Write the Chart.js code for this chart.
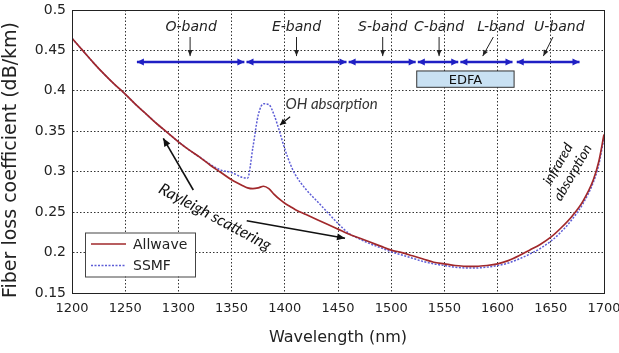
<!DOCTYPE html>
<html><head><meta charset="utf-8">
<script src="https://cdn.jsdelivr.net/npm/chart.js@4/dist/chart.umd.min.js"></script>
<style>html,body{margin:0;padding:0;background:#fff}</style>
</head><body>
<canvas id="c" width="619" height="353"></canvas>
<script>
const wavelengths = [1200,1210,1220,1230,1240,1250,1260,1270,1280,1290,1300,1310,1320,1330,1340,1350,1360,1365,1370,1375,1380,1385,1390,1395,1400,1405,1410,1420,1430,1440,1450,1460,1470,1480,1490,1500,1510,1520,1530,1540,1550,1560,1570,1580,1590,1600,1610,1620,1630,1640,1650,1660,1670,1680,1690,1695,1700];
const allwave = [0.465,0.450,0.435,0.421,0.408,0.396,0.383,0.371,0.359,0.348,0.337,0.327,0.318,0.308,0.299,0.290,0.283,0.280,0.279,0.280,0.282,0.279,0.272,0.266,0.261,0.257,0.253,0.247,0.241,0.235,0.229,0.223,0.218,0.213,0.208,0.203,0.200,0.196,0.192,0.188,0.186,0.184,0.183,0.183,0.184,0.186,0.190,0.196,0.203,0.210,0.219,0.231,0.245,0.263,0.290,0.312,0.346];
const ssmf = [0.465,0.450,0.435,0.421,0.408,0.396,0.383,0.371,0.359,0.348,0.337,0.327,0.318,0.309,0.302,0.299,0.293,0.292,0.330,0.370,0.384,0.383,0.370,0.350,0.328,0.310,0.296,0.278,0.264,0.250,0.236,0.224,0.217,0.211,0.206,0.201,0.197,0.193,0.189,0.186,0.184,0.182,0.181,0.181,0.182,0.184,0.187,0.192,0.198,0.205,0.214,0.226,0.241,0.260,0.287,0.308,0.342];
const xTicks = [1200,1250,1300,1350,1400,1450,1500,1550,1600,1650,1700];
const yTicks = [0.15,0.2,0.25,0.3,0.35,0.4,0.45,0.5];
const yTickLabels = ['0.15','0.2','0.25','0.3','0.35','0.4','0.45','0.5'];

// telecom bands (nm) as read from the arrows
const bandNames = ['O-band','E-band','S-band','C-band','L-band','U-band'];
const bandStart = [1261,1364,1460,1525,1565,1618];
const bandEnd   = [1362,1458,1523,1563,1614,1677];
const bandLabelX = [1312,1411,1492,1545,1603,1658];
const bandPointerTop = [1311,1411,1492,1545,1596,1652];
const bandPointerBottom = [1311,1411,1492,1545,1586,1643];
const bandArrowLevel = 0.4357;
const bandLabelLevel = 0.479;
const bandPointerFrom = 0.4666;
const bandPointerTo = 0.443;
const edfaRange = [1524,1615.5];
const edfaLevels = [0.4246,0.4044];

const C_RED = '#a1282b';
const C_BLUE = '#5d5dd6';
const C_BAND = '#1f1fc4';

function arrowHead(ctx, x1, y1, x2, y2, len, half){
  const ang = Math.atan2(y2-y1, x2-x1);
  ctx.beginPath();
  ctx.moveTo(x2, y2);
  ctx.lineTo(x2 - len*Math.cos(ang) + half*Math.sin(ang), y2 - len*Math.sin(ang) - half*Math.cos(ang));
  ctx.lineTo(x2 - len*Math.cos(ang) - half*Math.sin(ang), y2 - len*Math.sin(ang) + half*Math.cos(ang));
  ctx.closePath();
  ctx.fill();
}
function arrow(ctx, x1, y1, x2, y2, color, w, len, half, both){
  ctx.strokeStyle = color; ctx.fillStyle = color; ctx.lineWidth = w;
  ctx.beginPath(); ctx.moveTo(x1, y1); ctx.lineTo(x2, y2); ctx.stroke();
  arrowHead(ctx, x1, y1, x2, y2, len, half);
  if (both) arrowHead(ctx, x2, y2, x1, y1, len, half);
}

const annot = {
  id: 'annot',
  afterDatasetsDraw(chart){
    const {ctx, scales:{x, y}, chartArea:a} = chart;
    const X = v => x.getPixelForValue(v), Y = v => y.getPixelForValue(v);
    ctx.save();
    ctx.setLineDash([]);
    // frame
    ctx.strokeStyle = '#222'; ctx.lineWidth = 1;
    ctx.strokeRect(Math.round(a.left)+0.5, Math.round(a.top)+0.5, Math.round(a.right-a.left), Math.round(a.bottom-a.top));

    // bands
    ctx.font = 'italic 14px "DejaVu Sans"';
    ctx.textAlign = 'center'; ctx.textBaseline = 'middle';
    for (let i = 0; i < bandNames.length; i++){
      arrow(ctx, X(bandStart[i]), Y(bandArrowLevel), X(bandEnd[i]), Y(bandArrowLevel), C_BAND, 2.4, 7, 3.5, true);
      ctx.fillStyle = '#222';
      ctx.fillText(bandNames[i], X(bandLabelX[i]), Y(bandLabelLevel));
      arrow(ctx, X(bandPointerTop[i]), Y(bandPointerFrom), X(bandPointerBottom[i]), Y(bandPointerTo), '#222', 1, 6, 2.5, false);
    }
    // EDFA box
    const ex0 = X(edfaRange[0]), ex1 = X(edfaRange[1]), ey0 = Y(edfaLevels[0]), ey1 = Y(edfaLevels[1]);
    ctx.fillStyle = '#c9e1f3';
    ctx.fillRect(ex0, ey0, ex1-ex0, ey1-ey0);
    ctx.strokeStyle = '#333'; ctx.lineWidth = 1;
    ctx.strokeRect(ex0, ey0, ex1-ex0, ey1-ey0);
    ctx.fillStyle = '#111';
    ctx.font = '13px "DejaVu Sans"';
    ctx.fillText('EDFA', (ex0+ex1)/2, (ey0+ey1)/2+1);

    // handwritten notes
    ctx.fillStyle = '#333';
    ctx.font = 'italic 15px Lato';
    ctx.fillText('OH absorption', X(1444), Y(0.3838));
    arrow(ctx, X(1405), Y(0.368), X(1395.5), Y(0.3578), '#111', 1.3, 6, 3, false);

    ctx.save();
    ctx.translate(X(1334.4), Y(0.244));
    ctx.rotate(28*Math.PI/180);
    ctx.font = 'italic 16px Lato';
    ctx.fillText('Rayleigh scattering', 0, 0);
    ctx.restore();
    arrow(ctx, X(1314), Y(0.2774), X(1285.8), Y(0.3413), '#111', 1.6, 8, 3.5, false);
    arrow(ctx, X(1364.2), Y(0.2394), X(1456.6), Y(0.2177), '#111', 1.6, 8, 3.5, false);

    ctx.save();
    ctx.translate(X(1663.3), Y(0.3046));
    ctx.rotate(-60*Math.PI/180);
    ctx.font = 'italic 14px Lato';
    ctx.fillText('infrared', 0, -8);
    ctx.fillText('absorption', 0, 9);
    ctx.restore();

    // legend
    const lx = a.left + 13, ly = a.top + 222.5, lw = 110, lh = 44;
    ctx.fillStyle = '#fff'; ctx.fillRect(lx, ly, lw, lh);
    ctx.strokeStyle = '#444'; ctx.lineWidth = 1; ctx.strokeRect(lx+0.5, ly+0.5, lw, lh);
    const ds = chart.data.datasets;
    ctx.textAlign = 'left';
    ctx.font = '14px "DejaVu Sans"';
    ds.forEach((d, i) => {
      const yy = ly + 11.5 + i*21.5;
      ctx.strokeStyle = d.borderColor; ctx.lineWidth = d.borderWidth;
      ctx.setLineDash(d.borderDash || []);
      ctx.beginPath(); ctx.moveTo(lx+6, yy); ctx.lineTo(lx+41, yy); ctx.stroke();
      ctx.setLineDash([]);
      ctx.fillStyle = '#222';
      ctx.fillText(d.label, lx+48, yy+1);
    });

    // y axis title
    ctx.save();
    ctx.translate(11, 160);
    ctx.rotate(-Math.PI/2);
    ctx.textAlign = 'center'; ctx.textBaseline = 'middle';
    ctx.fillStyle = '#222';
    ctx.font = '19px "DejaVu Sans"';
    ctx.fillText('Fiber loss coefficient (dB/km)', 0, 0);
    ctx.restore();
    ctx.restore();
  }
};

new Chart(document.getElementById('c'), {
  type: 'line',
  data: {
    labels: wavelengths,
    datasets: [
      {label: 'Allwave', data: wavelengths.map((w,i)=>({x:w, y:allwave[i]})), borderColor: C_RED, borderWidth: 1.7, pointRadius: 0, cubicInterpolationMode: 'monotone', order: 0},
      {label: 'SSMF', data: wavelengths.map((w,i)=>({x:w, y:ssmf[i]})), borderColor: C_BLUE, borderWidth: 1.5, borderDash: [2,1.5], pointRadius: 0, cubicInterpolationMode: 'monotone', order: 1}
    ]
  },
  options: {
    responsive: false, animation: false, devicePixelRatio: 1,
    layout: {padding: {left: 0, right: 15, top: 10, bottom: 0}},
    plugins: {legend: {display: false}, tooltip: {enabled: false}},
    scales: {
      x: {
        type: 'linear', min: 1200, max: 1700,
        afterBuildTicks: s => { s.ticks = xTicks.map(v => ({value: v})); },
        afterFit: s => { s.height = 60; s.paddingLeft = 0; s.paddingRight = 0; },
        grid: {color: '#333', lineWidth: 1, drawTicks: false, tickLength: 0},
        border: {display: true, color: '#333', dash: [1.5,2]},
        ticks: {padding: 8, color: '#222', font: {family: 'DejaVu Sans', size: 13}, maxRotation: 0, callback: v => String(v)},
        title: {display: true, text: 'Wavelength (nm)', color: '#222', font: {family: 'DejaVu Sans', size: 16}, padding: {top: 0, bottom: 6}}
      },
      y: {
        min: 0.15, max: 0.5,
        afterBuildTicks: s => { s.ticks = yTicks.map(v => ({value: v})); },
        afterFit: s => { s.width = 72; s.paddingTop = 0; s.paddingBottom = 0; },
        grid: {color: '#333', lineWidth: 1, drawTicks: false, tickLength: 0},
        border: {display: true, color: '#333', dash: [1.5,2]},
        ticks: {padding: 6, color: '#222', font: {family: 'DejaVu Sans', size: 14}, callback: (v, i) => yTickLabels[i]},
        title: {display: false}
      }
    }
  },
  plugins: [annot]
});
</script>
</body></html>
